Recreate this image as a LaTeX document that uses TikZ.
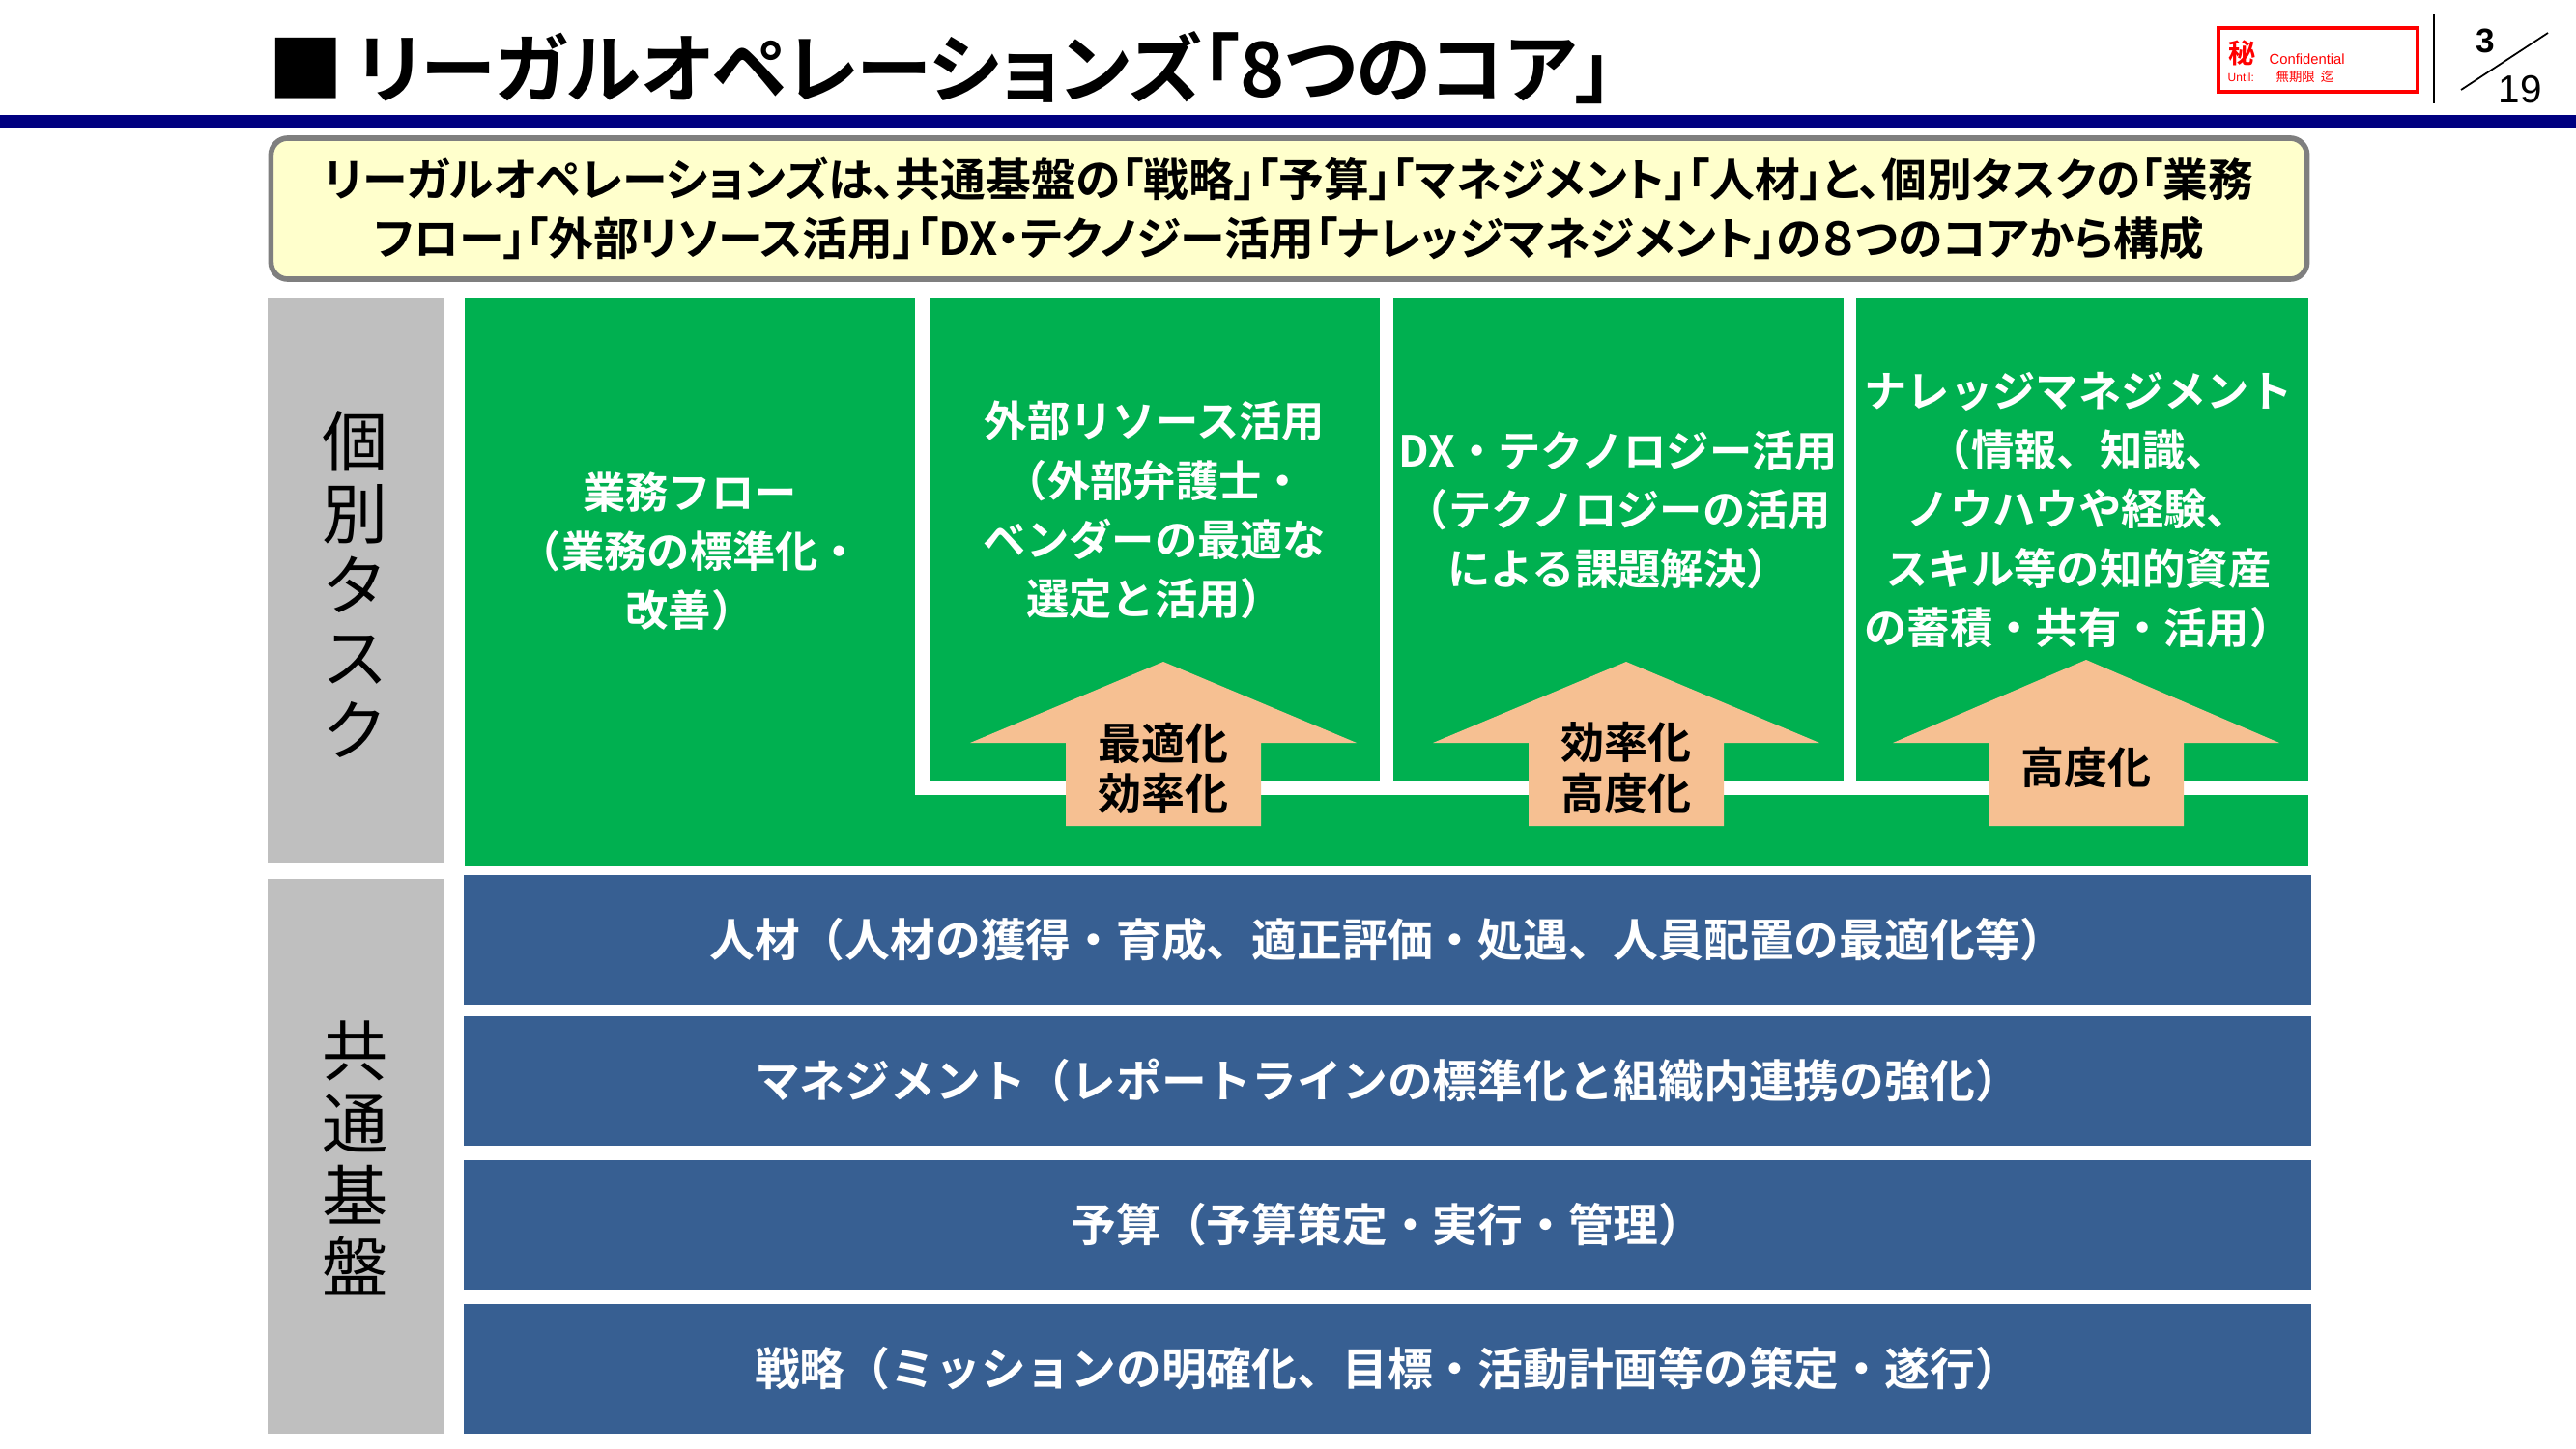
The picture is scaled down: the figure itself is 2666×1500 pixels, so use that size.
\documentclass[tikz,border=0pt]{standalone}
\usepackage{fontspec}
\setmainfont{Noto Sans CJK JP}[BoldFont={* Bold}]
\newfontfamily\jpprop{Noto Sans CJK JP}[BoldFont={* Bold},RawFeature=+palt]
\newfontfamily\latin{Liberation Sans}
\usetikzlibrary{positioning}
\definecolor{taskgreen}{HTML}{00B050}
\definecolor{barblue}{HTML}{375F92}
\definecolor{sidegray}{HTML}{BFBFBF}
\definecolor{arrowpeach}{HTML}{F6C092}
\definecolor{sumyellow}{HTML}{FFFFCC}
\definecolor{sumgray}{HTML}{7F7F7F}
\definecolor{rulenavy}{HTML}{000080}
\definecolor{stampred}{HTML}{FF0000}

\begin{document}
\begin{tikzpicture}[x=0.01cm, y=-0.01cm]
	\tikzstyle{sidebar}=[fill=sidegray];
	\tikzstyle{sidetext}=[align=center, font=\fontsize{19.4}{21.3}\selectfont];
	\tikzstyle{taskbox}=[fill=taskgreen];
	\tikzstyle{boxtext}=[text=white, align=center, font=\bfseries\fontsize{12.6}{17.4}\selectfont];
	\tikzstyle{uparrow}=[fill=arrowpeach];
	\tikzstyle{arrowtext}=[align=center, font=\bfseries\fontsize{12.8}{14.8}\selectfont];
	\tikzstyle{basebar}=[fill=barblue, minimum width=19.11cm, minimum height=1.34cm, inner sep=0pt, text=white, font=\bfseries\fontsize{13.3}{15}\selectfont];
	\tikzstyle{stamp}=[text=stampred, inner sep=0pt, anchor=base west];

   \useasboundingbox (0,0) rectangle (2666,1500);

   \node[anchor=west, inner sep=0pt, font=\jpprop\bfseries\fontsize{22.3}{26}\selectfont] (title) at (277,70) {■\,リーガルオペレーションズ「8つのコア」};
   \fill[rulenavy] (0,119) rectangle (2666,133);

   \draw[stampred, line width=1pt] (2296,29) rectangle (2502,95);
   \node[stamp, font=\bfseries\fontsize{8}{8}\selectfont] (hi) at (2306,66) {秘};
   \node[stamp, font=\latin\fontsize{4.2}{5}\selectfont] (conf) at (2348,67) {Confidential};
   \node[stamp, font=\latin\fontsize{3.4}{4}\selectfont] (until) at (2305,85) {Until:};
   \node[stamp, font=\fontsize{3.8}{4}\selectfont] (expiry) at (2355,85) {無期限\ \ 迄};
   \draw[line width=0.6pt] (2519,15) -- (2519,107);
   \node[font=\latin\bfseries\fontsize{10}{10}\selectfont] (page) at (2572,42) {3};
   \node[font=\latin\fontsize{11.5}{12}\selectfont] (total) at (2608,93) {19};
   \draw[line width=0.5pt] (2547,93) -- (2637,34);

   \node[draw=sumgray, line width=1.6pt, fill=sumyellow, rounded corners=5pt, minimum width=21.06cm, minimum height=1.46cm, align=center, font=\jpprop\bfseries\fontsize{13.3}{17.3}\selectfont] (summary) at (1334,216) {リーガルオペレーションズは、共通基盤の「戦略」「予算」「マネジメント」「人材」と、個別タスクの「業務\\フロー」「外部リソース活用」「DX・テクノジー活用「ナレッジマネジメント」の８つのコアから構成};

   \fill[sidebar] (277,309) rectangle (459,893);
   \fill[sidebar] (277,910) rectangle (459,1484);
   \node[sidetext] (kobetsu) at (368,605) {個\\別\\タ\\ス\\ク};
   \node[sidetext] (kyotsu) at (368,1199) {共\\通\\基\\盤};

   \fill[taskbox] (481,309) rectangle (947,896);
   \fill[taskbox] (947,823) rectangle (2389,896);
   \fill[taskbox] (962,309) rectangle (1428,809);
   \fill[taskbox] (1442,309) rectangle (1908,809);
   \fill[taskbox] (1921,309) rectangle (2389,809);

   \node[boxtext] (flow) at (714,571) {業務フロー\\（業務の標準化・\\改善）};
   \node[boxtext] (resource) at (1195,528) {外部リソース活用\\（外部弁護士・\\ベンダーの最適な\\選定と活用）};
   \node[boxtext] (dx) at (1675,528) {DX・テクノロジー活用\\（テクノロジーの活用\\による課題解決）};
   \node[boxtext] (knowledge) at (2151,528) {ナレッジマネジメント\\（情報、知識、\\ノウハウや経験、\\スキル等の知的資産\\の蓄積・共有・活用）};

   \fill[uparrow] (1204,685) -- ++(200,84) -- ++(-99,0) -- ++(0,86) -- ++(-202,0) -- ++(0,-86) -- ++(-99,0) -- cycle;
   \fill[uparrow] (1683,685) -- ++(200,84) -- ++(-99,0) -- ++(0,86) -- ++(-202,0) -- ++(0,-86) -- ++(-99,0) -- cycle;
   \fill[uparrow] (2159,683) -- ++(200,86) -- ++(-99,0) -- ++(0,86) -- ++(-202,0) -- ++(0,-86) -- ++(-99,0) -- cycle;
   \node[arrowtext] (optimize) at (1204,795) {最適化\\効率化};
   \node[arrowtext] (efficiency) at (1683,795) {効率化\\高度化};
   \node[arrowtext] (advance) at (2159,794) {高度化};

   \node[basebar] (people) at (1436,973) {人材（人材の獲得・育成、適正評価・処遇、人員配置の最適化等）};
   \node[basebar] (management) at (1436,1119) {マネジメント（レポートラインの標準化と組織内連携の強化）};
   \node[basebar] (budget) at (1436,1268) {予算（予算策定・実行・管理）};
   \node[basebar] (strategy) at (1436,1417) {戦略（ミッションの明確化、目標・活動計画等の策定・遂行）};

\end{tikzpicture}
\end{document}
